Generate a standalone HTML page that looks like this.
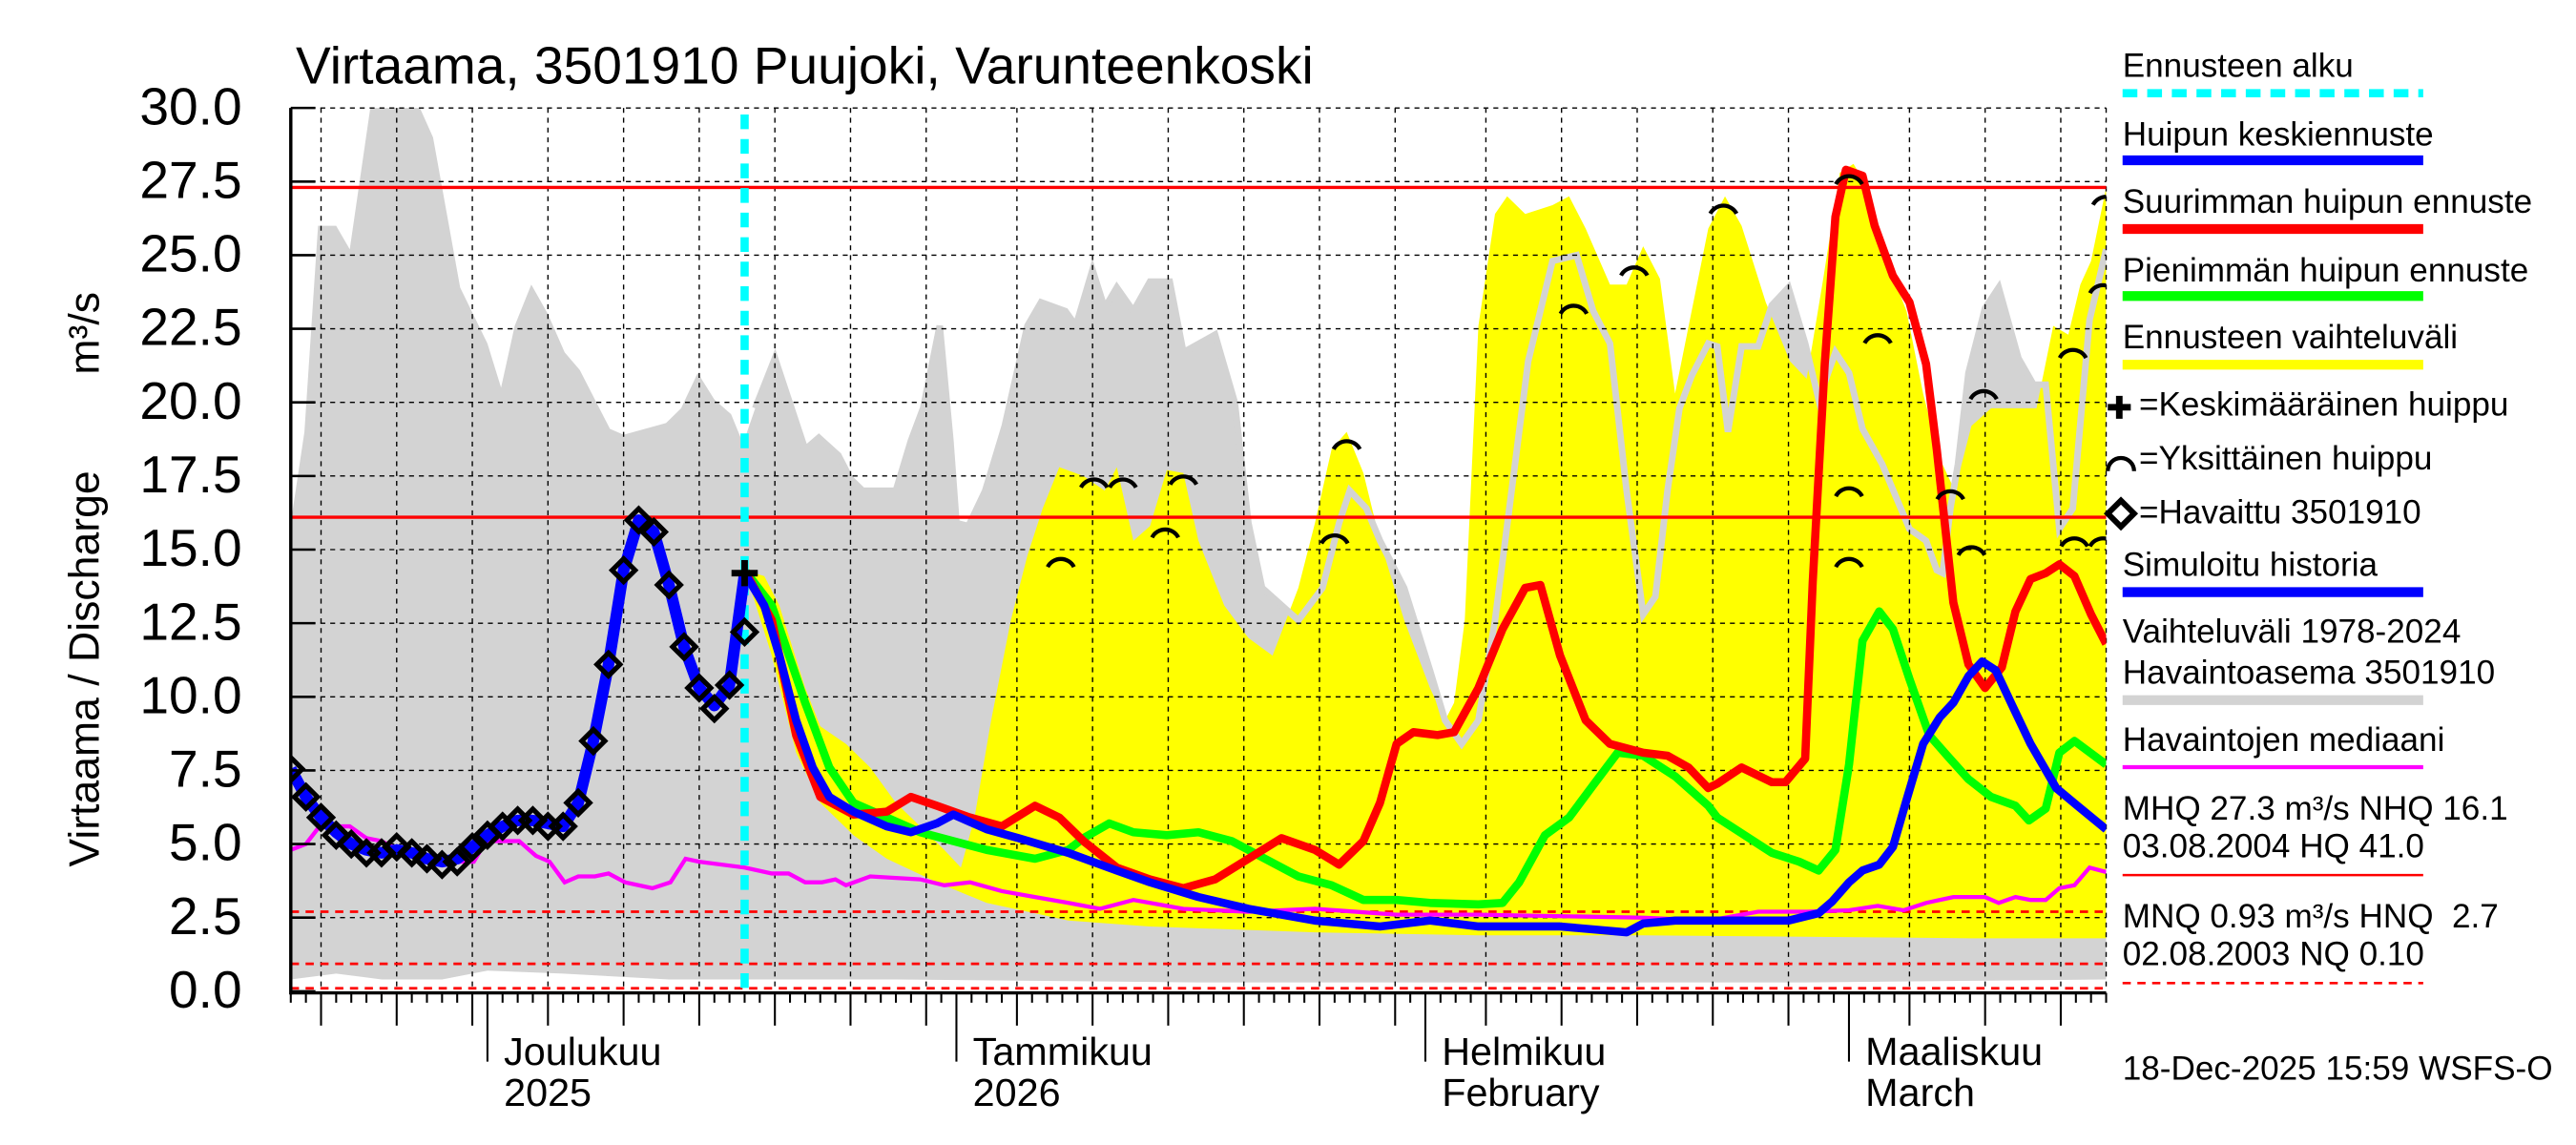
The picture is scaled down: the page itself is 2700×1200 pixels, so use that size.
<!DOCTYPE html>
<html><head><meta charset="utf-8"><style>
html,body{margin:0;padding:0;background:#fff;}
svg{display:block;font-family:"Liberation Sans",Arial,sans-serif;}
</style></head><body>
<svg id="chart" width="2700" height="1200" viewBox="0 0 1568 700" preserveAspectRatio="none" xmlns="http://www.w3.org/2000/svg">
<rect x="0" y="0" width="1568" height="700" fill="#fff"/>
<defs><clipPath id="plotclip"><rect x="177" y="66" width="1105" height="541"/></clipPath></defs>
<text x="180" y="51" font-size="32">Virtaama, 3501910 Puujoki, Varunteenkoski</text>
<text transform="translate(60,530) rotate(-90)" font-size="26">Virtaama / Discharge</text>
<text transform="translate(60,229) rotate(-90)" font-size="26">m³/s</text>
<g id="fills" clip-path="url(#plotclip)"></g>
<g id="grid"></g>
<g id="lines" clip-path="url(#plotclip)"></g>
<g id="axes"></g>
<g id="legend" font-size="20.4">
  <text x="1292" y="47">Ennusteen alku</text>
  <line x1="1292" y1="57" x2="1475" y2="57" stroke="#00ffff" stroke-width="5" stroke-dasharray="9 6"/>
  <text x="1292" y="89">Huipun keskiennuste</text>
  <line x1="1292" y1="98" x2="1475" y2="98" stroke="#0000ff" stroke-width="6"/>
  <text x="1292" y="130">Suurimman huipun ennuste</text>
  <line x1="1292" y1="140" x2="1475" y2="140" stroke="#ff0000" stroke-width="6"/>
  <text x="1292" y="172">Pienimmän huipun ennuste</text>
  <line x1="1292" y1="181" x2="1475" y2="181" stroke="#00ff00" stroke-width="6"/>
  <text x="1292" y="213">Ennusteen vaihteluväli</text>
  <line x1="1292" y1="223" x2="1475" y2="223" stroke="#ffff00" stroke-width="6"/>
  <path d="M1283,249 h14 M1290,242 v14" stroke="#000" stroke-width="4"/>
  <text x="1302" y="254">=Keskimääräinen huippu</text>
  <path d="M1283,288 A8 8 0 0 1 1299,288" fill="none" stroke="#000" stroke-width="2.5"/>
  <text x="1302" y="287">=Yksittäinen huippu</text>
  <path d="M1291,306 L1299,314 L1291,322 L1283,314 Z" fill="none" stroke="#000" stroke-width="3.5"/>
  <text x="1302" y="320">=Havaittu 3501910</text>
  <text x="1292" y="352">Simuloitu historia</text>
  <line x1="1292" y1="362" x2="1475" y2="362" stroke="#0000ff" stroke-width="6"/>
  <text x="1292" y="393">Vaihteluväli 1978-2024</text>
  <text x="1292" y="418">Havaintoasema 3501910</text>
  <line x1="1292" y1="428" x2="1475" y2="428" stroke="#d3d3d3" stroke-width="6"/>
  <text x="1292" y="459">Havaintojen mediaani</text>
  <line x1="1292" y1="469" x2="1475" y2="469" stroke="#ff00ff" stroke-width="2.5"/>
  <text x="1292" y="501">MHQ 27.3 m³/s NHQ 16.1</text>
  <text x="1292" y="524">03.08.2004 HQ 41.0</text>
  <line x1="1292" y1="535" x2="1475" y2="535" stroke="#ff0000" stroke-width="1.5"/>
  <text x="1292" y="567" xml:space="preserve">MNQ 0.93 m³/s HNQ  2.7</text>
  <text x="1292" y="590">02.08.2003 NQ 0.10</text>
  <line x1="1292" y1="601" x2="1475" y2="601" stroke="#ff0000" stroke-width="1.5" stroke-dasharray="5 4"/>
  <text x="1292" y="660">18-Dec-2025 15:59 WSFS-O</text>
</g>
<script>
// ---- data (day index from 18-Nov-2025, value m3/s) ----
const grayUpper = [[0,15.9],[0.9,19],[1.8,26],[3,26],[3.9,25.2],[5.4,30.5],[8.1,30.5],[9.4,29],[11.2,23.9],[13,22],[13.9,20.5],[14.8,22.6],[15.9,24],[17,23],[18.1,21.7],[19.1,21.1],[21.1,19.1],[22,18.9],[24.8,19.3],[25.8,19.8],[26.9,21],[28,20.1],[29.1,19.6],[29.9,18.6],[30.7,19.8],[32,21.5],[34,18.4],[34.9,18.8],[36.2,18.2],[37,17.4],[37.8,17],[40,17],[41,18.7],[41.8,19.8],[42.9,22.6],[43.6,18.7],[44,15.9],[44.8,15.8],[45.9,17],[47.2,19.2],[48.7,22.6],[49.6,23.4],[51.2,23.1],[51.9,22.6],[53,24.5],[53.8,23.2],[54.6,23.9],[55.7,23.1],[56.8,24.1],[58.1,24.1],[59,21.7],[61.1,22.3],[62.4,20],[63.3,15.9],[64.2,13.7],[66.6,12.6],[68.2,13.7],[69.3,15.9],[70,17],[71.1,16.4],[72,15.3],[73.6,13.7],[75.3,10.9],[76.3,9.2],[77.4,8.4],[78.5,9.2],[79.6,12.6],[80.7,17],[81.8,21.4],[83.4,24.8],[85,25],[86.1,23.1],[87.2,22],[88.3,17],[89.4,12.8],[90.2,13.4],[91,17],[91.8,19.8],[92.6,20.9],[93.7,22],[94.3,21.9],[95,19],[95.9,21.9],[97,21.9],[97.9,23.3],[99,23.9],[100.1,22],[101,20.1],[102.1,21.7],[103,21],[103.9,19.1],[105.2,17.9],[107,15.7],[108.1,15.3],[108.8,14.3],[109.2,14.2],[109.7,16.4],[110.2,17.9],[110.9,21],[112,23.2],[112.9,23.9],[114.2,21.5],[115.2,20.6],[116,20.6],[116.9,15.7],[117.8,16.4],[118.9,22.8],[120,25.2]];
const grayLower = [[0,0.4],[3,0.6],[6,0.4],[10,0.4],[13,0.7],[18,0.6],[25,0.4],[40,0.4],[60,0.3],[90,0.3],[100,0.3],[120,0.4]];
const yellowUpper = [[30,14.3],[31.3,14.1],[32.3,13.1],[34,10.3],[35,9],[36.7,8.4],[38.3,7.6],[40,6.4],[41.6,5.6],[43.2,4.8],[44.3,4.2],[45.2,5.9],[46.3,9.2],[47.6,12.6],[48.7,14.8],[49.7,16.4],[50.8,17.8],[52.4,17.5],[53.8,17],[54.6,17.8],[55.7,15.3],[56.8,15.8],[57.9,17.7],[59,17.6],[60,15.3],[61.7,13.1],[63.3,12],[64.9,11.4],[66.6,13.7],[67.7,15.9],[68.8,18.4],[69.8,19],[70.9,17.6],[72,15.3],[73.6,12.6],[75.3,10.3],[76.3,9.2],[76.9,9.8],[77.6,12.6],[78.5,22.6],[79.6,26.4],[80.4,27],[81.6,26.4],[83.4,26.7],[84.5,27],[85.6,25.9],[87.2,24],[88.3,24],[89.4,25.3],[90.5,24.2],[91.5,20.3],[92.6,23.1],[93.7,25.9],[94.8,27],[95.9,26],[97.5,23.4],[99.1,21.4],[100.2,20.8],[101.3,24.2],[102.4,27.8],[103.3,28.1],[104,27.5],[105.5,24.8],[106.8,23.1],[107.9,20.3],[109,18.1],[110,17],[111.1,19.2],[112.4,19.8],[114.4,19.8],[115.4,19.8],[116.5,22.6],[117.5,22.3],[118.3,24],[119,24.8],[120,27.3]];
const yellowLower = [[30,14.3],[31.8,11.4],[33.4,8.1],[35,6.4],[37.2,5.3],[39.4,4.5],[42.7,3.7],[46,3.0],[51.4,2.4],[56.8,2.2],[67.7,2.0],[78.5,1.9],[89.4,1.9],[100.2,1.85],[111.1,1.8],[120,1.8]];
const medianSeries = [[0,4.8],[1,5.0],[1.9,5.6],[3.9,5.6],[5,5.2],[6,5.1],[7.1,4.8],[8.1,4.7],[9,4.4],[10.2,4.4],[12.1,4.4],[12.9,5.1],[15.1,5.1],[16.2,4.6],[17.1,4.4],[18.1,3.7],[19,3.9],[20.1,3.9],[21,4.0],[22.1,3.7],[23.9,3.5],[25.1,3.7],[26.1,4.5],[27,4.4],[30,4.2],[31.8,4.0],[32.9,4.0],[34,3.7],[35.1,3.7],[36,3.8],[36.7,3.6],[38.3,3.9],[41.6,3.8],[43.2,3.6],[44.9,3.7],[47,3.4],[49.2,3.2],[51.4,3.0],[53.5,2.8],[55.7,3.1],[56.8,3.0],[59,2.8],[63.3,2.7],[67.7,2.8],[73.1,2.6],[78.5,2.6],[89.4,2.5],[93.7,2.4],[97,2.7],[100.2,2.7],[103,2.75],[104.9,2.9],[106.6,2.75],[108.1,3.0],[109.9,3.2],[111.1,3.2],[112,3.2],[112.9,3.0],[114,3.2],[115,3.1],[116,3.1],[116.9,3.5],[117.9,3.6],[118.9,4.2],[120,4.05]];
const maxPeakSeries = [[30,14.3],[31.8,12.6],[33.4,8.7],[35,6.6],[37.2,6.0],[39.4,6.1],[41,6.6],[42.7,6.3],[44.9,5.9],[47,5.6],[49.2,6.3],[50.8,5.9],[52.4,5.1],[54.6,4.2],[56.8,3.8],[59,3.5],[61.1,3.8],[63.3,4.5],[65.5,5.2],[67.7,4.8],[69.3,4.3],[70.9,5.1],[72,6.4],[73.1,8.4],[74.2,8.8],[75.8,8.7],[76.9,8.8],[78.5,10.3],[80.1,12.3],[81.6,13.7],[82.6,13.8],[83.9,11.4],[85.6,9.2],[87.2,8.4],[89.4,8.1],[91,8.0],[92.4,7.6],[93.7,6.9],[94.3,7.05],[95.9,7.6],[97.9,7.1],[98.8,7.1],[100.1,7.9],[100.6,13.9],[101.4,21.3],[102.1,26.3],[102.8,27.9],[103.9,27.7],[104.7,26],[105.9,24.3],[107,23.4],[108.1,21.3],[108.8,18.4],[109.9,13.2],[110.9,11.1],[112,10.3],[113.1,11],[114,12.9],[115,14],[116,14.2],[116.9,14.5],[117.9,14.1],[119,12.8],[120,11.8]];
const minPeakSeries = [[30,14.3],[31.8,13.1],[34,9.8],[35.6,7.6],[37.2,6.4],[39.4,5.9],[41.6,5.4],[43.8,5.1],[46,4.8],[49.2,4.5],[51.4,4.8],[52.4,5.2],[54.1,5.7],[55.7,5.4],[57.9,5.3],[60,5.4],[62.2,5.1],[64.4,4.5],[66.6,3.9],[68.8,3.6],[70.9,3.1],[73.1,3.1],[75.3,3.0],[78.5,2.95],[80.1,3.0],[81.2,3.7],[82.9,5.3],[84.5,5.9],[86.1,7],[87.7,8.1],[89.4,8.0],[91.5,7.3],[93.7,6.3],[94.3,5.9],[96.1,5.3],[97.9,4.7],[99.7,4.4],[101,4.1],[102.1,4.8],[103,7.7],[103.9,11.9],[105,12.9],[105.9,12.3],[107,10.6],[108.3,8.7],[109.5,8.0],[110.9,7.2],[112.4,6.6],[114,6.3],[114.9,5.8],[116,6.2],[116.9,8.1],[117.9,8.5],[120,7.7]];
const meanPeakSeries = [[30,14.2],[31.3,13.1],[32.3,11.4],[33.4,9.2],[34.5,7.6],[35.6,6.6],[37.2,6.1],[39.4,5.6],[41,5.4],[42.7,5.7],[43.8,6.0],[46,5.5],[48.1,5.2],[51.4,4.7],[54.6,4.1],[56.8,3.7],[60,3.2],[63.3,2.8],[67.7,2.4],[72,2.2],[75.3,2.4],[78.5,2.2],[83.9,2.2],[88.3,2.0],[89.4,2.3],[91.5,2.4],[95.9,2.4],[99,2.4],[101,2.65],[101.9,3.05],[103,3.7],[103.9,4.1],[105,4.3],[105.9,4.9],[106.8,6.5],[107.9,8.4],[109,9.3],[109.9,9.8],[110.9,10.7],[111.8,11.2],[112.7,10.9],[113.8,9.7],[115,8.4],[116.7,6.9],[118.1,6.3],[120,5.5]];
const observedDays = [0,1,2,3,4,5,6,7,8,9,10,11,12,13,14,15,16,17,18,19,20,21,22,23,24,25,26,27,28,29,30];
const observedValues = [7.55,6.6,5.9,5.3,5.0,4.7,4.7,4.9,4.7,4.5,4.3,4.4,4.9,5.3,5.6,5.8,5.8,5.6,5.6,6.4,8.5,11.1,14.3,16.0,15.6,13.8,11.7,10.3,9.6,10.4,12.2];
const simulatedValues = [7.55,6.6,5.9,5.4,5.0,4.8,4.7,4.8,4.7,4.5,4.4,4.5,4.9,5.3,5.6,5.8,5.8,5.7,5.6,6.4,8.5,11.1,14.3,16.0,15.6,13.8,11.7,10.3,9.7,10.4,14.2];
const peakDays = [50.9,53.1,55,57.8,59,69,69.8,84.8,88.8,94.7,103,103,103,104.9,109.7,111.1,111.9,117.8,117.9,119.8,119.8,120];
const peakValues = [14.8,17.5,17.5,15.8,17.6,15.6,18.8,23.4,24.7,26.8,27.8,17.2,14.8,22.4,17.1,15.2,20.5,21.9,15.5,15.5,24.1,27.1];
const meanPeakMarkerDay = 30, meanPeakMarkerValue = 14.2;
const refLevels = [27.3, 16.1];
const refDashed = [2.7, 0.93, 0.10];
const yTicks = [0,2.5,5,7.5,10,12.5,15,17.5,20,22.5,25,27.5,30];
const yTickLabels = ["0.0","2.5","5.0","7.5","10.0","12.5","15.0","17.5","20.0","22.5","25.0","27.5","30.0"];
const gridDays = [2,7,12,17,22,27,32,37,42,48,53,58,63,68,73,79,84,89,94,99,107,112,117];
const monthDays = [13,44,75,103];
const monthLabels1 = ["Joulukuu","Tammikuu","Helmikuu","Maaliskuu"];
const monthLabels2 = ["2025","2026","February","March"];
const forecastStartDay = 30;

// ---- scales ----
const XL=177, XR=1282, Y0=606, YT=66, NDAYS=120;
function X(d){return XL + d*(XR-XL)/NDAYS;}
function Y(v){return Y0 - v*(Y0-YT)/30;}
const NS="http://www.w3.org/2000/svg";
function mk(tag, parent, attrs){const e=document.createElementNS(NS,tag);for(const k in attrs)e.setAttribute(k,attrs[k]);parent.appendChild(e);return e;}
function pts(arr){return arr.map(p=>X(p[0]).toFixed(1)+","+Y(p[1]).toFixed(1));}
const fills=document.getElementById('fills'), grid=document.getElementById('grid'), lines=document.getElementById('lines'), axes=document.getElementById('axes');

// fills
let e=mk('polygon',fills,{points:pts(grayUpper).concat(pts(grayLower.slice().reverse())).join(' '),fill:'#d3d3d3'});


e=mk('polygon',fills,{points:pts(yellowUpper).concat(pts(yellowLower.slice().reverse())).join(' '),fill:'#ffff00'});


e=mk('polyline',fills,{points:pts(grayUpper.filter(p=>p[0]>=30)).join(' '),fill:'none',stroke:'#d3d3d3','stroke-width':4});



// grid
yTicks.forEach(v=>{ if(v===0) return;
  const g=mk('line',grid,{x1:XL,x2:XR,y1:Y(v),y2:Y(v),stroke:'#000','stroke-width':0.8,'stroke-dasharray':'3 3'});
  
  
});
gridDays.forEach(d=>{
  const g=mk('line',grid,{x1:X(d),x2:X(d),y1:YT,y2:Y0,stroke:'#000','stroke-width':0.8,'stroke-dasharray':'3 3'});
  
  
});
e=mk('line',grid,{x1:XR,x2:XR,y1:YT,y2:Y0,stroke:'#000','stroke-width':0.8,'stroke-dasharray':'3 3'});



// reference lines
refLevels.forEach(v=>{
  const l=mk('line',lines,{x1:XL,x2:XR,y1:Y(v),y2:Y(v),stroke:'#ff0000','stroke-width':2});
  
  
});
refDashed.forEach(v=>{
  const l=mk('line',lines,{x1:XL,x2:XR,y1:Y(v),y2:Y(v),stroke:'#ff0000','stroke-width':1.6,'stroke-dasharray':'5 4'});
  
  
});

// median
e=mk('polyline',lines,{points:pts(medianSeries).join(' '),fill:'none',stroke:'#ff00ff','stroke-width':2.5});


// forecast lines
e=mk('polyline',lines,{points:pts(minPeakSeries).join(' '),fill:'none',stroke:'#00ff00','stroke-width':5,'stroke-linejoin':'round'});


e=mk('polyline',lines,{points:pts(maxPeakSeries).join(' '),fill:'none',stroke:'#ff0000','stroke-width':5,'stroke-linejoin':'round'});


e=mk('polyline',lines,{points:pts(meanPeakSeries).join(' '),fill:'none',stroke:'#0000ff','stroke-width':5,'stroke-linejoin':'round'});



// forecast start
e=mk('line',lines,{x1:X(forecastStartDay),x2:X(forecastStartDay),y1:YT+4,y2:Y0,stroke:'#00ffff','stroke-width':5,'stroke-dasharray':'9 6'});



// simulated history
e=mk('polyline',lines,{points:observedDays.map((d,i)=>X(d).toFixed(1)+","+Y(simulatedValues[i]).toFixed(1)).join(' '),fill:'none',stroke:'#0000ff','stroke-width':7,'stroke-linejoin':'round'});


// observed diamonds
observedDays.forEach((d,i)=>{
  const x=X(d), y=Y(observedValues[i]);
  const m=mk('path',lines,{d:`M${x},${y-7} L${x+7},${y} L${x},${y+7} L${x-7},${y} Z`,fill:'none',stroke:'#000','stroke-width':3});
  
  
});
// mean peak marker
{const x=X(meanPeakMarkerDay), y=Y(meanPeakMarkerValue);
 const m=mk('path',lines,{d:`M${x-8},${y} h16 M${x},${y-8} v16`,stroke:'#000','stroke-width':4});
 
 }
// individual peaks
peakDays.forEach((d,i)=>{
  const x=X(d), y=Y(peakValues[i]);
  const m=mk('path',lines,{d:`M${x-8},${y+7} A9 9 0 0 1 ${x+8},${y+7}`,fill:'none',stroke:'#000','stroke-width':2.5});
  
  
});

// axes
e=mk('line',axes,{x1:XL,x2:XL,y1:YT,y2:Y0+2,stroke:'#000','stroke-width':2});


e=mk('line',axes,{x1:XL,x2:XR,y1:Y0+1,y2:Y0+1,stroke:'#000','stroke-width':2});


yTicks.forEach((v,i)=>{
  const t=mk('line',axes,{x1:XL,x2:XL+15,y1:Y(v),y2:Y(v),stroke:'#000','stroke-width':1.5});
  
  
  const lab=yTickLabels[i];
  const tx=mk('text',axes,{x:(lab.length===3?85+17.8:85),y:Y(v)+10,'font-size':32});
  tx.textContent=lab;
  
  
});
for(let d=0; d<=NDAYS; d++){
  let len=6;
  if(gridDays.includes(d)) len=20;
  if(monthDays.includes(d)) len=42;
  const t=mk('line',axes,{x1:X(d),x2:X(d),y1:Y0+1,y2:Y0+1+len,stroke:'#000','stroke-width':1.2});
  
  
}
monthDays.forEach((d,i)=>{
  const a=mk('text',axes,{x:X(d)+10,y:651,'font-size':24});
  a.textContent=monthLabels1[i];
  
  
  const b=mk('text',axes,{x:X(d)+10,y:676,'font-size':24});
  b.textContent=monthLabels2[i];
  
  
});
</script>
</svg>
</body></html>
